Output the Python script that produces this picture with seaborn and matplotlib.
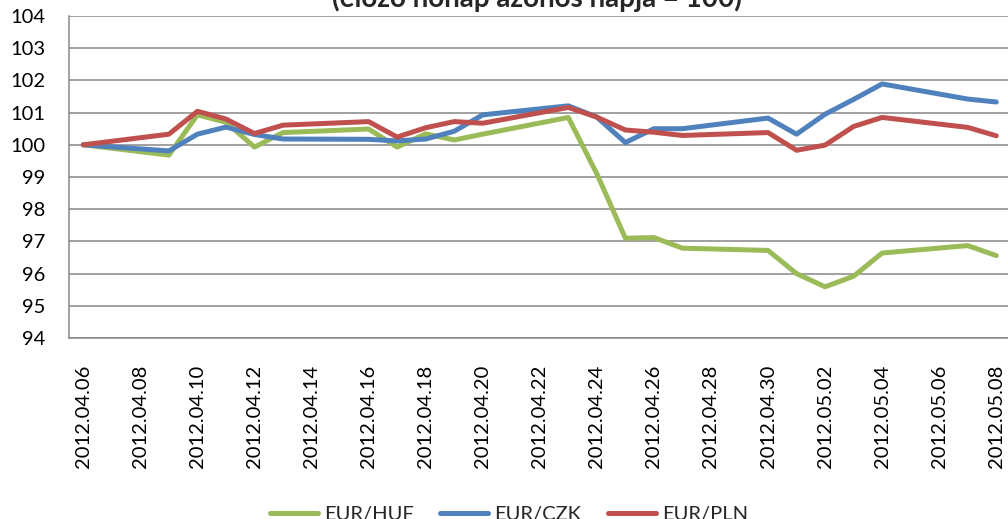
import numpy as np
import pandas as pd
import seaborn as sns
import matplotlib
matplotlib.use("Agg")
import matplotlib.pyplot as plt
from matplotlib.lines import Line2D

# napi adatok (munkanapok)
dates = ["2012.04.06", "2012.04.09", "2012.04.10", "2012.04.11", "2012.04.12",
         "2012.04.13", "2012.04.16", "2012.04.17", "2012.04.18", "2012.04.19",
         "2012.04.20", "2012.04.23", "2012.04.24", "2012.04.25", "2012.04.26",
         "2012.04.27", "2012.04.30", "2012.05.01", "2012.05.02", "2012.05.03",
         "2012.05.04", "2012.05.07", "2012.05.08"]

eur_huf = [100.0, 99.68, 100.93, 100.7, 99.93, 100.38, 100.49, 99.93, 100.34, 100.15,
           100.33, 100.85, 99.1, 97.1, 97.12, 96.79, 96.72, 96.0, 95.59, 95.92,
           96.64, 96.87, 96.56]
eur_czk = [100.0, 99.81, 100.33, 100.55, 100.32, 100.18, 100.17, 100.12, 100.18, 100.42,
           100.93, 101.21, 100.86, 100.07, 100.5, 100.5, 100.83, 100.33, 100.95, 101.41,
           101.89, 101.42, 101.33]
eur_pln = [100.0, 100.33, 101.04, 100.8, 100.35, 100.61, 100.72, 100.24, 100.53, 100.72,
           100.67, 101.16, 100.86, 100.46, 100.39, 100.29, 100.38, 99.83, 99.99, 100.57,
           100.85, 100.54, 100.28]

series_names = ["EUR/HUF", "EUR/CZK", "EUR/PLN"]
colors = ["#9BBB59", "#4F81BD", "#C0504D"]
title = "(előző hónap azonos napja = 100)"

x = pd.to_datetime(dates, format="%Y.%m.%d") + pd.Timedelta(hours=12)
df = pd.concat([
    pd.DataFrame({"datum": x, "ertek": v, "deviza": n})
    for n, v in zip(series_names, [eur_huf, eur_czk, eur_pln])
])

sns.set_style("white")
plt.rcParams["font.family"] = ["Lato", "DejaVu Sans"]

fig = plt.figure(figsize=(10.08, 5.19), dpi=100)
ax = fig.add_axes([0.0685, 0.3487, 0.934, 0.6205])

sns.lineplot(data=df, x="datum", y="ertek", hue="deviza", palette=colors,
             linewidth=3.6, ax=ax, legend=False)

ax.set_ylim(94, 104)
ax.set_yticks(range(94, 105))
ax.set_xlim(pd.Timestamp("2012-04-06"), pd.Timestamp("2012-05-09"))

# tick marks on day boundaries, labels between them (like Excel)
tick_days = pd.date_range("2012-04-06", "2012-05-08", freq="2D")
ax.set_xticks(tick_days)
ax.set_xticklabels([])
ax.set_xticks(tick_days + pd.Timedelta(hours=12), minor=True)
ax.set_xticklabels([d.strftime("%Y.%m.%d") for d in tick_days], minor=True,
                   rotation=90, fontsize=14.5)
ax.tick_params(axis="x", which="major", length=6, width=1.1, color="#868686", direction="out")
ax.tick_params(axis="x", which="minor", length=0, pad=19, labelcolor="black")
ax.tick_params(axis="y", length=5, width=1.1, color="#868686", direction="out",
               labelsize=14.5, pad=12, labelcolor="black")

ax.grid(axis="y", color="#868686", linewidth=1.1)
ax.grid(axis="x", visible=False)
for s in ["top", "right"]:
    ax.spines[s].set_visible(False)
for s in ["left", "bottom"]:
    ax.spines[s].set_color("#868686")
    ax.spines[s].set_linewidth(1.1)
ax.set_xlabel("")
ax.set_ylabel("")

fig.text(0.533, 0.9865, title, ha="center", va="baseline", fontsize=20, fontweight="bold")

handles = [Line2D([], [], color=c, linewidth=3.6) for c in colors]
fig.legend(handles, series_names, loc="center", bbox_to_anchor=(0.505, 0.008), ncol=3,
           frameon=False, fontsize=14.5, handlelength=2.4, handletextpad=0.3,
           columnspacing=1.3)

fig.savefig("out.png", dpi=100)
